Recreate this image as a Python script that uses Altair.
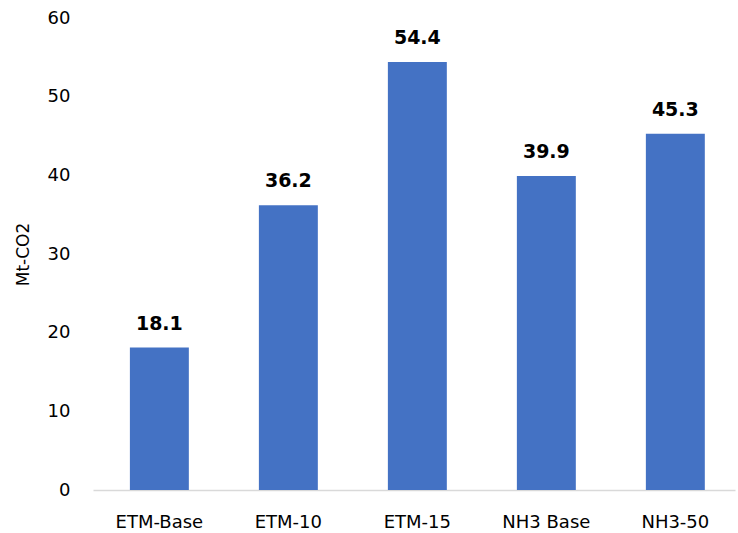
import altair as alt
import pandas as pd

categories = ["ETM-Base", "ETM-10", "ETM-15", "NH3 Base", "NH3-50"]
values = [18.1, 36.2, 54.4, 39.9, 45.3]

df = pd.DataFrame({"cat": categories, "val": values})
FONT = "DejaVu Sans"

base = alt.Chart(df).encode(
    x=alt.X("cat:N", sort=categories, title=None,
            scale=alt.Scale(paddingInner=0.543, paddingOuter=0.26, align=0.55),
            axis=alt.Axis(labelAngle=0, labelFont=FONT, labelFontSize=18,
                          labelColor="#000000", labelPadding=23, ticks=False,
                          domainColor="#d9d9d9", domainWidth=1.5)),
    y=alt.Y("val:Q", title="Mt-CO2",
            scale=alt.Scale(domain=[0, 60], nice=False),
            axis=alt.Axis(values=[0, 10, 20, 30, 40, 50, 60], grid=False,
                          domain=False, ticks=False, labelFont=FONT,
                          labelFontSize=18, labelColor="#000000",
                          labelPadding=23, titleFont=FONT, titleFontSize=17,
                          titleFontWeight="normal", titleColor="#000000",
                          titlePadding=15)),
)

bars = base.mark_bar(color="#4472C4")
labels = base.mark_text(baseline="bottom", dy=-14, font=FONT, fontSize=19,
                        fontWeight="bold", color="#000000").encode(
    text=alt.Text("val:Q", format=".1f"))

chart = (bars + labels).properties(
    width=642, height=472,
    background="#ffffff",
    autosize=alt.AutoSizeParams(type="none"),
    padding={"left": 93, "top": 18, "right": 3, "bottom": 43},
).configure_view(stroke=None)

chart.save("out.html", embed_options={"renderer": "svg", "actions": False})
